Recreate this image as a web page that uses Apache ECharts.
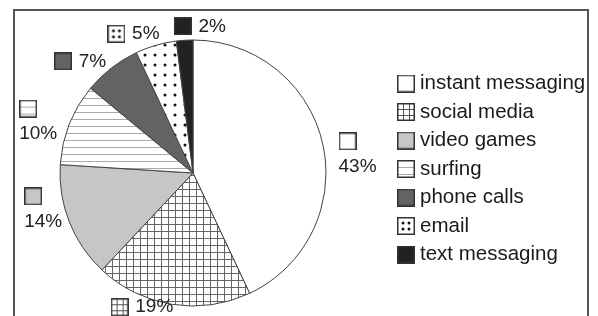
<!DOCTYPE html>
<html>
<head>
<meta charset="utf-8">
<script src="https://cdn.jsdelivr.net/npm/echarts@6/dist/echarts.min.js"></script>
</head>
<body style="margin:0;background:#fff">
<div id="main" style="width:598px;height:316px"></div>
<script>
var names = ['instant messaging', 'social media', 'video games', 'surfing', 'phone calls', 'email', 'text messaging'];
var shares = [43, 19, 14, 10, 7, 5, 2];

// small canvas tiles used as fill patterns
function tile(kind) {
    var c = document.createElement('canvas');
    var ctx = c.getContext('2d');
    if (kind === 'grid') {
        c.width = 7; c.height = 7;
        ctx.fillStyle = '#fff'; ctx.fillRect(0, 0, 7, 7);
        ctx.strokeStyle = '#666'; ctx.lineWidth = 1;
        ctx.beginPath(); ctx.moveTo(0.5, 0); ctx.lineTo(0.5, 7); ctx.moveTo(0, 0.5); ctx.lineTo(7, 0.5); ctx.stroke();
    } else if (kind === 'hlines') {
        c.width = 7; c.height = 7;
        ctx.fillStyle = '#fff'; ctx.fillRect(0, 0, 7, 7);
        ctx.strokeStyle = '#aaa'; ctx.lineWidth = 1;
        ctx.beginPath(); ctx.moveTo(0, 0.5); ctx.lineTo(7, 0.5); ctx.stroke();
    } else if (kind === 'dots') {
        c.width = 10; c.height = 10;
        ctx.fillStyle = '#fff'; ctx.fillRect(0, 0, 10, 10);
        ctx.fillStyle = '#111';
        ctx.beginPath(); ctx.arc(5, 5, 1.5, 0, Math.PI * 2); ctx.fill();
    } else {
        c.width = 4; c.height = 4;
        ctx.fillStyle = kind; ctx.fillRect(0, 0, 4, 4);
    }
    return c;
}

var fills = ['#ffffff', 'grid', '#c6c6c6', 'hlines', '#636363', 'dots', '#222222'];
var tiles = fills.map(tile);

// boxed icon (legend + labels)
function icon(i) {
    var c = document.createElement('canvas');
    c.width = 18; c.height = 18;
    var ctx = c.getContext('2d');
    var t = tiles[i];
    if (fills[i] === 'dots') {
        ctx.fillStyle = '#fff'; ctx.fillRect(0, 0, 18, 18);
        ctx.fillStyle = '#111';
        [[6, 6], [12, 6], [6, 12], [12, 12]].forEach(function (p) {
            ctx.beginPath(); ctx.arc(p[0], p[1], 1.5, 0, Math.PI * 2); ctx.fill();
        });
    } else if (fills[i] === 'grid') {
        ctx.fillStyle = '#fff'; ctx.fillRect(0, 0, 18, 18);
        ctx.strokeStyle = '#555'; ctx.lineWidth = 1;
        ctx.beginPath();
        [6.5, 12.5].forEach(function (v) { ctx.moveTo(v, 0); ctx.lineTo(v, 18); ctx.moveTo(0, v); ctx.lineTo(18, v); });
        ctx.stroke();
    } else {
        ctx.fillStyle = ctx.createPattern(t, 'repeat'); ctx.fillRect(0, 0, 18, 18);
    }
    ctx.strokeStyle = '#333'; ctx.lineWidth = 1.5;
    ctx.strokeRect(0.75, 0.75, 16.5, 16.5);
    return c.toDataURL();
}
var icons = names.map(function (n, i) { return icon(i); });

// label arrangement: icon above the number, or beside it
var stacked = [true, false, true, true, false, false, false];
var nudge = [[0, 13], [7, -9], [8, -17], [3, 2], [6, 3], [11, 0], [46, -2]];

var rich = { t: { fontSize: 19, lineHeight: 20, color: '#222', fontFamily: 'Liberation Sans, Arial', align: 'left' } };
icons.forEach(function (u, i) {
    rich['b' + i] = { backgroundColor: { image: u }, width: 18, height: 18, align: 'left' };
    rich['s' + i] = { backgroundColor: { image: u }, width: 18, height: 18, lineHeight: 24, verticalAlign: 'top', align: 'left' };
});

var chart = echarts.init(document.getElementById('main'));
chart.setOption({
    animation: false,
    backgroundColor: '#fff',
    graphic: [{
        type: 'rect',
        shape: { x: 14, y: 10, width: 574, height: 320 },
        style: { fill: null, stroke: '#555', lineWidth: 2 }
    }],
    legend: {
        orient: 'vertical',
        left: 397,
        top: 73,
        padding: 0,
        itemWidth: 18,
        itemHeight: 18,
        itemGap: 7.5,
        textStyle: { fontSize: 20.5, color: '#1a1a1a', fontFamily: 'Liberation Sans, Arial' },
        data: names.map(function (n, i) { return { name: n, icon: 'image://' + icons[i] }; })
    },
    series: [{
        type: 'pie',
        center: [193, 173],
        radius: 133,
        startAngle: 90,
        clockwise: true,
        avoidLabelOverlap: false,
        minShowLabelAngle: 0,
        itemStyle: { borderColor: '#444', borderWidth: 1 },
        labelLine: { show: false, length: 12, length2: 0 },
        label: {
            position: 'outside',
            distanceToLabelLine: 4,
            formatter: function (p) {
                var i = p.dataIndex;
                return stacked[i] ? '{s' + i + '|}\n{t|' + p.value + '%}' : '{b' + i + '|}  {t|' + p.value + '%}';
            },
            rich: rich
        },
        labelLayout: function (p) {
            return { dx: nudge[p.dataIndex][0], dy: nudge[p.dataIndex][1], hideOverlap: false };
        },
        emphasis: { disabled: true },
        data: names.map(function (n, i) {
            return { name: n, value: shares[i], itemStyle: { color: { image: tiles[i], repeat: 'repeat' } } };
        })
    }]
});
</script>
</body>
</html>
